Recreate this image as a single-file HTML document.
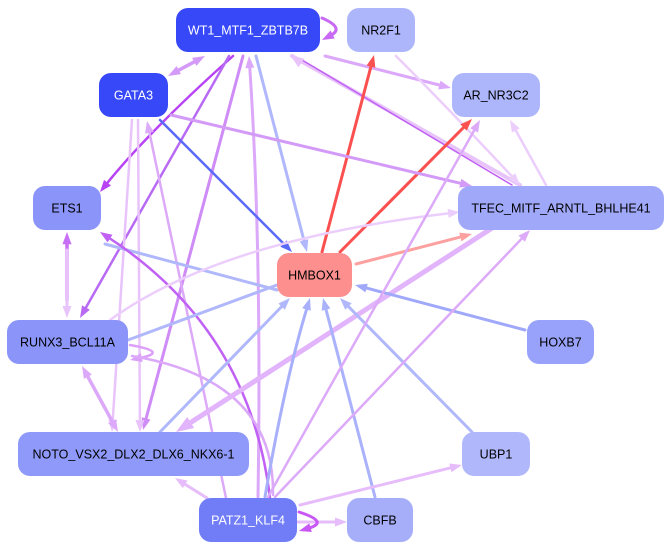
<!DOCTYPE html>
<html><head><meta charset="utf-8"><style>
html,body{margin:0;padding:0;background:#fff;}
svg{display:block;}
text{font-family:"Liberation Sans",sans-serif;font-size:12.5px;}
</style></head><body>
<svg id="s" width="671" height="551" viewBox="0 0 671 551" xmlns="http://www.w3.org/2000/svg">
<g id="edges" fill="none" stroke-linecap="round"></g>
<g id="nodes"></g>
</svg>
<script>
const E=document.getElementById('edges'),N=document.getElementById('nodes');
const ns='http://www.w3.org/2000/svg';
function el(t,a,p){const e=document.createElementNS(ns,t);for(const k in a)e.setAttribute(k,a[k]);p.appendChild(e);return e;}
function head(x,y,fx,fy,c,w){const dx=x-fx,dy=y-fy,L=Math.hypot(dx,dy)||1,ux=dx/L,uy=dy/L;const s=Math.max(12,w*3.5),h=Math.max(9,w*2.6);
const bx=x-ux*s,by=y-uy*s;el('polygon',{points:`${x},${y} ${bx-uy*h/2},${by+ux*h/2} ${bx+uy*h/2},${by-ux*h/2}`,fill:c,stroke:'none'},E);return [x-ux*s*0.8,y-uy*s*0.8];}
function ed(x1,y1,x2,y2,c,w,ae,as,cx,cy){
 let sx=x1,sy=y1,tx=x2,ty=y2;
 const fx2=cx!==undefined?cx:x1,fy2=cx!==undefined?cy:y1,fx1=cx!==undefined?cx:x2,fy1=cx!==undefined?cy:y2;
 if(ae){[tx,ty]=head(x2,y2,fx2,fy2,c,w);}
 if(as){[sx,sy]=head(x1,y1,fx1,fy1,c,w);}
 const d=cx!==undefined?`M${sx},${sy} Q${cx},${cy} ${tx},${ty}`:`M${sx},${sy} L${tx},${ty}`;
 el('path',{d:d,stroke:c,'stroke-width':w},E);
}
const LB='#b0b8fb',LP='#e8c4fb',MP='#dca8f9',P='#cf8cf7',DP='#c060f5';
ed(322,18,322,40,'#c86af5',3,1,0,345,28);
ed(205,56,168,76,'#d49af7',3.5,1,1);
ed(233,56,100,192,'#b844f5',2.5,1,0,150,130);
ed(229,56,80,318,'#b86af5',2.5,1,0);
ed(243,56,143,430,P,3,1,0);
ed(258,497,249,56,MP,3,1,0,262,250);
ed(256,56,307,252,LB,3,1,0);
ed(325,56,451,88,MP,3,1,0);
ed(520,185,292,56,LP,4,0,0);
ed(302,60,512,185,'#c060f5',1.5,0,0);
ed(300,62,290,55,LP,4,1,0);
ed(396,56,520,185,'#eccefc',2.5,1,0,450,110);
ed(322,252,374,55,'#fb5050',3,1,0);
ed(340,252,472,119,'#fb5050',3,1,0);
ed(356,264,472,234,'#fca0a0',3,1,0);
ed(546,185,510,120,'#eccefc',2.5,1,0);
ed(171,115,472,186,'#d49af7',3,1,0);
ed(160,120,292,252,'#5a6af8',2.5,1,0);
ed(132,120,112,432,LP,2.5,1,0);
ed(138,120,140,432,LP,2.5,1,0);
ed(226,498,147,121,'#dcaaf9',2.5,1,0);
ed(105,244,277,290,LB,3,0,0);
ed(270,498,100,232,DP,2.5,1,0,250,330);
ed(67,300,67,232,'#c870f5',3.5,1,0);
ed(67,250,67,318,'#e8c4fb',3,1,0);
ed(110,320,460,212,'#eccefc',2.5,1,0,220,240);
ed(128,340,277,285,LB,3,0,0);
ed(130,345,130,360,'#dca0f9',2.5,1,0,170,352);
ed(132,356,273,495,MP,2.5,0,0,275,380);
ed(82,366,118,432,MP,3.5,1,1);
ed(160,432,290,298,LB,3,1,0);
ed(520,210,176,432,'#e2b4fb',5,1,0);
ed(207,498,175,478,'#e6bcfb',3,1,0);
ed(265,497,310,298,'#a8b0fb',3,1,0,285,380);
ed(375,497,323,298,'#aab2fb',3,1,0);
ed(472,432,340,298,LB,3,1,0);
ed(525,330,355,285,'#a0a8fa',3,1,0);
ed(275,497,530,230,'#dcaaf9',2.5,1,0);
ed(268,497,480,120,'#dcaaf9',2.5,1,0);
ed(300,505,462,465,'#e6bcfb',3,1,0);
ed(298,522,347,522,'#e6bcfb',3,1,0);
ed(299,512,299,531,'#c858f5',3,1,0,330,522);
const nodes=[
['WT1_MTF1_ZBTB7B',176,8,144,44,'#3748f9','#fff'],
['NR2F1',347,8,68,44,'#aeb6fb','#000'],
['GATA3',99,73,69,44,'#3748f9','#fff'],
['AR_NR3C2',452,73,88,44,'#aeb6fb','#000'],
['ETS1',33,186,68,44,'#8a94f9','#000'],
['TFEC_MITF_ARNTL_BHLHE41',458,186,206,44,'#a0a8f9','#000'],
['HMBOX1',277,253,75,44,'#fd8f8f','#000'],
['RUNX3_BCL11A',7,320,121,44,'#8a94f9','#000'],
['HOXB7',527,320,67,44,'#99a2fa','#000'],
['NOTO_VSX2_DLX2_DLX6_NKX6-1',18,432,231,44,'#8f99f9','#000'],
['UBP1',462,432,68,44,'#b0b7fb','#000'],
['PATZ1_KLF4',199,498,98,44,'#717df7','#fff'],
['CBFB',347,498,66,44,'#a6aefa','#000']];
for(const [t,x,y,w,h,f,c] of nodes){
 el('rect',{x:x,y:y,width:w,height:h,rx:12,ry:12,fill:f},N);
 const tx=el('text',{x:x+w/2,y:y+h/2+4.5,'text-anchor':'middle',fill:c},N);tx.textContent=t;
}
</script>
</body></html>
